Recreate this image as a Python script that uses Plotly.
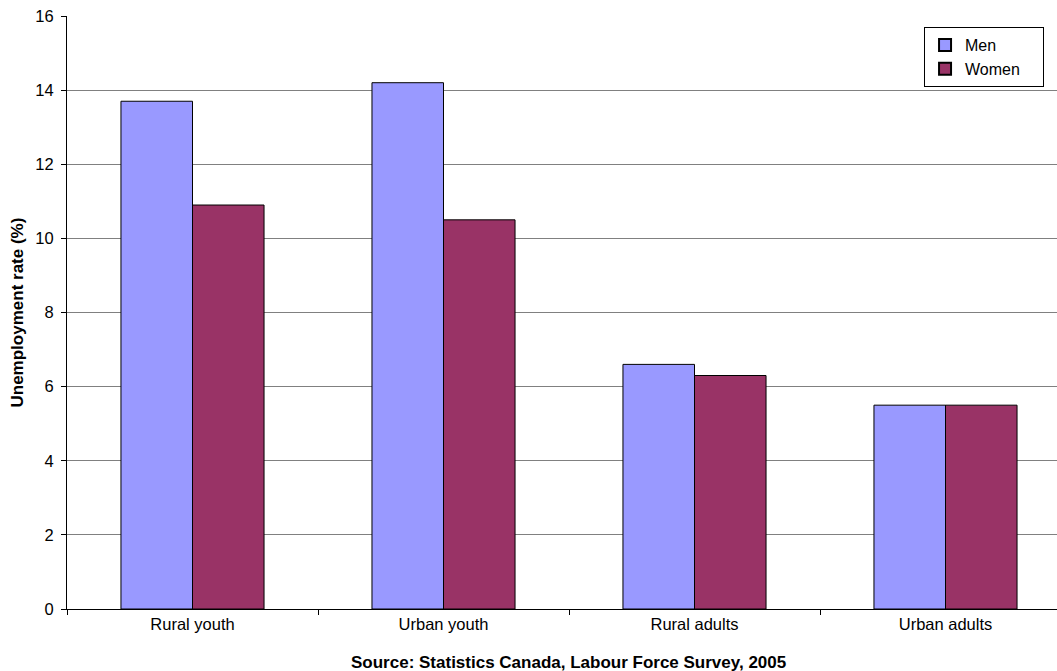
import plotly.graph_objects as go

# Unemployment rate by group and sex, 2005
categories = ["Rural youth", "Urban youth", "Rural adults", "Urban adults"]
men = [13.7, 14.2, 6.6, 5.5]
women = [10.9, 10.5, 6.3, 5.5]
y_ticks = [0, 2, 4, 6, 8, 10, 12, 14, 16]
series_names = ["Men", "Women"]

FONT = "Arial, 'Liberation Sans', sans-serif"
PAD = "\u00a0" * 4  # keeps the legend box a little wider than its labels

fig = go.Figure()
fig.add_trace(go.Bar(
    x=categories, y=men, name=series_names[0] + PAD,
    marker=dict(color="#9999FF", line=dict(color="#000000", width=1)),
))
fig.add_trace(go.Bar(
    x=categories, y=women, name=series_names[1] + PAD,
    marker=dict(color="#993366", line=dict(color="#000000", width=1)),
))

fig.update_layout(
    width=1057, height=671,
    margin=dict(l=67, r=0, t=16, b=62),
    paper_bgcolor="white", plot_bgcolor="white",
    barmode="group", bargap=0.43, bargroupgap=0,
    font=dict(family=FONT, size=16.5, color="#000000"),
    showlegend=True,
    legend=dict(
        x=0.8657, y=(609 - 27) / 593, xanchor="left", yanchor="top",
        bgcolor="white", bordercolor="#000000", borderwidth=1,
        font=dict(size=16), itemsizing="constant",
    ),
    xaxis=dict(
        range=[-0.5, -0.5 + 990 / 251],
        showline=True, linecolor="#000000", linewidth=1,
        ticks="outside", tickson="boundaries", ticklen=5,
        tickcolor="#000000", showgrid=False, zeroline=False,
        tickfont=dict(size=16.5),
    ),
    yaxis=dict(
        range=[0, 16], tickvals=y_ticks,
        showline=True, linecolor="#000000", linewidth=1,
        ticks="outside", ticklen=5, tickcolor="#000000",
        showgrid=True, gridcolor="#808080", gridwidth=1,
        zeroline=False, tickfont=dict(size=16.5),
        ticklabelstandoff=4,
    ),
    annotations=[
        dict(
            text="<b>Unemployment rate (%)</b>", textangle=-90,
            xref="paper", yref="paper", x=(17 - 67) / 990, y=0.5,
            xanchor="center", yanchor="middle", showarrow=False,
            font=dict(size=17),
        ),
        dict(
            text="<b>Source: Statistics Canada, Labour Force Survey, 2005</b>",
            xref="paper", yref="paper", x=(568 - 67) / 990, y=-(662 - 609) / 593,
            xanchor="center", yanchor="middle", showarrow=False,
            font=dict(size=17),
        ),
    ],
)

fig.write_html("out.html")
